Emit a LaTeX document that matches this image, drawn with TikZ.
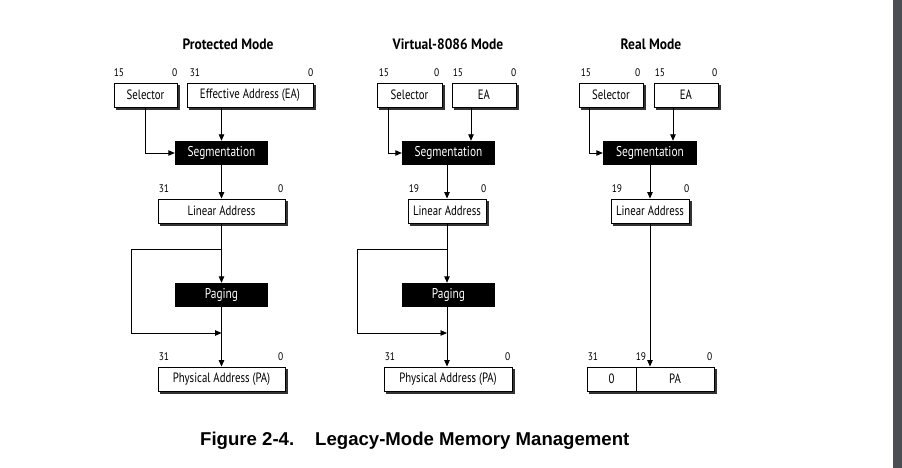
\documentclass[tikz,border=0pt]{standalone}
\usepackage{fontspec}
\setmainfont{Liberation Sans}
\newfontfamily\df[FakeStretch=0.80]{PT Sans}
\newfontfamily\tf[FakeStretch=0.90]{PT Sans}
\newfontfamily\lf[FakeStretch=0.86]{PT Sans}
\usetikzlibrary{arrows.meta}
\definecolor{barcol}{HTML}{4B4F53}
\pgfdeclarelayer{bg}
\pgfsetlayers{bg,main}
\begin{document}
\begin{tikzpicture}[x=1pt,y=-1pt,
  box/.style={draw, line width=0.9pt, fill=white, inner sep=0pt, minimum height=24pt,
    font=\df\fontsize{13.5}{15}\selectfont},
  blk/.style={fill=black, text=white, inner sep=0pt, minimum height=24pt, minimum width=93pt,
    font=\df\fontsize{14.2}{16}\selectfont},
  ttl/.style={font=\tf\bfseries\fontsize{15}{17}\selectfont, inner sep=0pt},
  lab/.style={font=\lf\fontsize{11}{13}\selectfont, inner sep=0pt},
  arr/.style={line width=0.9pt, -{Triangle[length=6.5pt,width=5.5pt]}},
  shd/.style={fill=black!80},
  captext/.style={font=\bfseries\fontsize{18.6}{20}\selectfont, anchor=base west, inner sep=0pt}
]
\useasboundingbox (0,0) rectangle (902,468);
\fill[barcol] (893,0) rectangle (902,468);

% ---------- Protected Mode ----------
\node[ttl] (t1) at (228,44) {Protected Mode};
\node[box, minimum width=63pt] (sel1) at (145.5,95) {Selector};
\node[box, minimum width=126pt] (ea1) at (250,95) {Effective Address (EA)};
\node[blk] (seg1) at (221.5,153) {Segmentation};
\node[box, minimum width=127pt] (lin1) at (221.5,211) {Linear Address};
\node[blk] (pag1) at (221.5,295) {Paging};
\node[box, minimum width=127pt] (pa1) at (221.5,379) {Physical Address (PA)};

\node[lab, anchor=base west] (l1a) at ([yshift=6pt]sel1.north west) {15};
\node[lab, anchor=base east] (l1b) at ([yshift=6pt]sel1.north east) {0};
\node[lab, anchor=base west] (l1c) at ([xshift=3pt,yshift=6pt]ea1.north west) {31};
\node[lab, anchor=base east] (l1d) at ([yshift=6pt]ea1.north east) {0};
\node[lab, anchor=base west] (l1e) at ([xshift=1pt,yshift=6pt]lin1.north west) {31};
\node[lab, anchor=base east] (l1f) at ([xshift=-2pt,yshift=6pt]lin1.north east) {0};
\node[lab, anchor=base west] (l1g) at ([xshift=1pt,yshift=6pt]pa1.north west) {31};
\node[lab, anchor=base east] (l1h) at ([xshift=-2pt,yshift=6pt]pa1.north east) {0};

\draw[arr] (sel1.south) |- (seg1.west);
\draw[arr] (seg1.north |- ea1.south) -- (seg1.north);
\draw[arr] (seg1.south) -- (lin1.north);
\draw[arr] (lin1.south) -- (pag1.north);
\coordinate (b1) at (131,249);
\coordinate (c1) at (131,333);
\draw[arr] (b1 -| lin1.south) -- (b1) -- (c1) -- (c1 -| pag1.south);
\draw[arr] (pag1.south) -- (pa1.north);

% ---------- Virtual-8086 Mode ----------
\node[ttl] (t2) at (448,44) {Virtual-8086 Mode};
\node[box, minimum width=65pt] (sel2) at (409.5,95) {Selector};
\node[box, minimum width=64pt] (ea2) at (484,95) {EA};
\node[blk] (seg2) at (448.5,153) {Segmentation};
\node[box, minimum width=78pt] (lin2) at (447,211) {Linear Address};
\node[blk] (pag2) at (448.5,295) {Paging};
\node[box, minimum width=128pt] (pa2) at (448,379) {Physical Address (PA)};

\node[lab, anchor=base west] (l2a) at ([xshift=2pt,yshift=6pt]sel2.north west) {15};
\node[lab, anchor=base east] (l2b) at ([xshift=-3pt,yshift=6pt]sel2.north east) {0};
\node[lab, anchor=base west] (l2c) at ([xshift=1pt,yshift=6pt]ea2.north west) {15};
\node[lab, anchor=base east] (l2d) at ([yshift=6pt]ea2.north east) {0};
\node[lab, anchor=base west] (l2e) at ([xshift=1pt,yshift=6pt]lin2.north west) {19};
\node[lab, anchor=base east] (l2f) at ([yshift=6pt]lin2.north east) {0};
\node[lab, anchor=base west] (l2g) at ([xshift=1pt,yshift=6pt]pa2.north west) {31};
\node[lab, anchor=base east] (l2h) at ([xshift=-2pt,yshift=6pt]pa2.north east) {0};

\draw[arr] ([xshift=-21.5pt]sel2.south) |- (seg2.west);
\draw[arr] ([xshift=-13pt]ea2.south) -- ([xshift=-13pt]ea2.south |- seg2.north);
\draw[arr] (lin2.north |- seg2.south) -- (lin2.north);
\draw[arr] (lin2.south) -- (lin2.south |- pag2.north);
\coordinate (b2) at (357,249);
\coordinate (c2) at (357,333);
\draw[arr] (b2 -| lin2.south) -- (b2) -- (c2) -- (c2 -| lin2.south);
\draw[arr] (lin2.south |- pag2.south) -- (lin2.south |- pa2.north);

% ---------- Real Mode ----------
\node[ttl] (t3) at (651,44) {Real Mode};
\node[box, minimum width=64pt] (sel3) at (611,95) {Selector};
\node[box, minimum width=64pt] (ea3) at (686,95) {EA};
\node[blk, minimum width=94pt] (seg3) at (650,153) {Segmentation};
\node[box, minimum width=78pt] (lin3) at (650,211) {Linear Address};
\node[box, minimum width=49pt] (pa3a) at (611.5,379) {0};
\node[box, minimum width=78pt] (pa3b) at (675,379) {PA};

\node[lab, anchor=base west] (l3a) at ([xshift=2pt,yshift=6pt]sel3.north west) {15};
\node[lab, anchor=base east] (l3b) at ([xshift=-3pt,yshift=6pt]sel3.north east) {0};
\node[lab, anchor=base west] (l3c) at ([xshift=1pt,yshift=6pt]ea3.north west) {15};
\node[lab, anchor=base east] (l3d) at ([xshift=-1pt,yshift=6pt]ea3.north east) {0};
\node[lab, anchor=base west] (l3e) at ([xshift=1pt,yshift=6pt]lin3.north west) {19};
\node[lab, anchor=base east] (l3f) at ([yshift=6pt]lin3.north east) {0};
\node[lab, anchor=base west] (l3g) at ([xshift=1pt,yshift=6pt]pa3a.north west) {31};
\node[lab, anchor=base west] (l3h) at ([yshift=6pt]pa3b.north west) {19};
\node[lab, anchor=base east] (l3i) at ([xshift=-2pt,yshift=6pt]pa3b.north east) {0};

\draw[arr] ([xshift=-22pt]sel3.south) |- (seg3.west);
\draw[arr] ([xshift=-13pt]ea3.south) -- ([xshift=-13pt]ea3.south |- seg3.north);
\draw[arr] (seg3.south) -- (lin3.north);
\draw[arr] (lin3.south) -- (lin3.south |- pa3b.north);

% ---------- Drop shadows ----------
\begin{pgfonlayer}{bg}
\foreach \n in {sel1,ea1,lin1,pa1,sel2,ea2,lin2,pa2,sel3,ea3,lin3,pa3a,pa3b}{
  \fill[shd] ([shift={(2.4,2.4)}]\n.north west) rectangle ([shift={(2.4,2.4)}]\n.south east);
}
\end{pgfonlayer}

% ---------- Caption ----------
\node[captext] (capa) at (200,445) {Figure 2-4.};
\node[captext] (capb) at (315,445) {Legacy-Mode Memory Management};
\end{tikzpicture}
\end{document}
